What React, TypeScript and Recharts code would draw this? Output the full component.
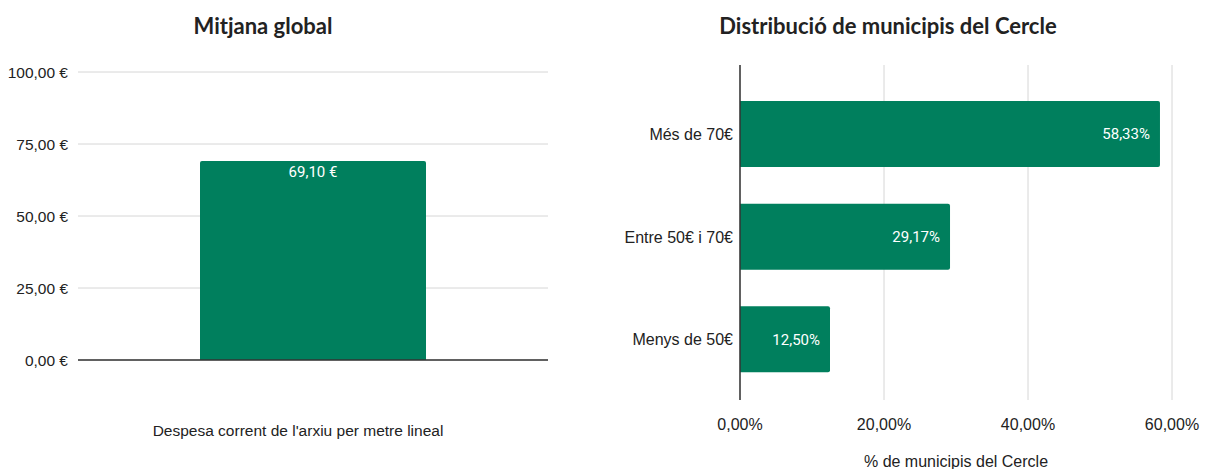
import { BarChart, Bar, XAxis, YAxis, CartesianGrid, LabelList } from "recharts";

// Mitjana global
const globalCategories = ["Despesa corrent de l'arxiu per metre lineal"];
const globalValues = [69.1];
const globalTicks = [0, 25, 50, 75, 100];

// Distribució de municipis
const distCategories = ["Més de 70€", "Entre 50€ i 70€", "Menys de 50€"];
const distValues = [58.33, 29.17, 12.5];
const distTicks = [0, 20, 40, 60];

const GREEN = "#007f5d";
const TXT = "#222222";
const GRID = "#d6d6d6";
const AXFONT = "'Liberation Sans', Arial, sans-serif";
const LBLFONT = "Roboto, sans-serif";

const euro = (v: number) => v.toFixed(2).replace(".", ",") + " €";
const pct = (v: number) => v.toFixed(2).replace(".", ",") + "%";

const titleStyle: React.CSSProperties = {
  position: "absolute",
  top: 12,
  fontFamily: "Lato, 'Open Sans', sans-serif",
  fontWeight: 700,
  fontSize: 22,
  lineHeight: "28px",
  color: TXT,
  textAlign: "center",
};

export default function App() {
  const globalData = globalCategories.map((name, i) => ({ name, value: globalValues[i] }));
  const distData = distCategories.map((name, i) => ({ name, value: distValues[i] }));

  return (
    <div
      style={{
        position: "fixed",
        left: 0,
        top: 0,
        width: 1206,
        height: 469,
        background: "#fff",
      }}
    >
      <div style={{ ...titleStyle, left: 0, width: 526 }}>Mitjana global</div>
      <div style={{ ...titleStyle, left: 600, width: 576 }}>Distribució de municipis del Cercle</div>

      <div style={{ position: "absolute", left: 0, top: 0 }}>
        <BarChart
          width={600}
          height={469}
          data={globalData}
          margin={{ top: 72, right: 52, bottom: 0, left: 0 }}
          barSize={226}
        >
          <CartesianGrid vertical={false} stroke={GRID} />
          <XAxis
            dataKey="name"
            tick={false}
            tickLine={false}
            axisLine={{ stroke: "#333", strokeWidth: 1.5 }}
            height={109}
            label={{
              value: globalCategories[0],
              position: "insideTop",
              offset: 65,
              dx: -15,
              fill: TXT,
              fontSize: 15.5,
              fontFamily: AXFONT,
            }}
          />
          <YAxis
            type="number"
            domain={[0, 100]}
            ticks={globalTicks}
            tickFormatter={euro}
            width={78}
            axisLine={false}
            tickLine={false}
            tickMargin={4}
            tick={{ fill: TXT, fontSize: 15.5, fontFamily: AXFONT }}
          />
          <Bar dataKey="value" fill={GREEN} isAnimationActive={false} radius={[2, 2, 0, 0]}>
            <LabelList
              dataKey="value"
              position="insideTop"
              offset={5}
              formatter={(v: any) => euro(Number(v))}
              fill="#fff"
              fontSize={15}
              fontFamily={LBLFONT}
            />
          </Bar>
        </BarChart>
      </div>

      <div style={{ position: "absolute", left: 600, top: 0 }}>
        <BarChart
          layout="vertical"
          width={606}
          height={469}
          data={distData}
          margin={{ top: 65, right: 34, bottom: 0, left: 0 }}
          barSize={66}
        >
          <CartesianGrid horizontal={false} stroke={GRID} />
          <XAxis
            type="number"
            domain={[0, 60]}
            ticks={distTicks}
            tickFormatter={pct}
            height={69}
            axisLine={false}
            tickLine={false}
            tickMargin={13}
            tick={{ fill: TXT, fontSize: 16, fontFamily: AXFONT }}
            label={{
              value: "% de municipis del Cercle",
              position: "insideBottom",
              offset: 2,
              fill: TXT,
              fontSize: 16,
              fontFamily: AXFONT,
            }}
          />
          <YAxis
            type="category"
            dataKey="name"
            width={140}
            padding={{ top: 18, bottom: 9 }}
            axisLine={{ stroke: "#333", strokeWidth: 1.5 }}
            tickLine={false}
            tickMargin={1}
            tick={{ fill: TXT, fontSize: 16, fontFamily: AXFONT }}
          />
          <Bar dataKey="value" fill={GREEN} isAnimationActive={false} radius={[0, 2, 2, 0]}>
            <LabelList
              dataKey="value"
              position="insideRight"
              offset={10}
              formatter={(v: any) => pct(Number(v))}
              fill="#fff"
              fontSize={15}
              fontFamily={LBLFONT}
            />
          </Bar>
        </BarChart>
      </div>
    </div>
  );
}
